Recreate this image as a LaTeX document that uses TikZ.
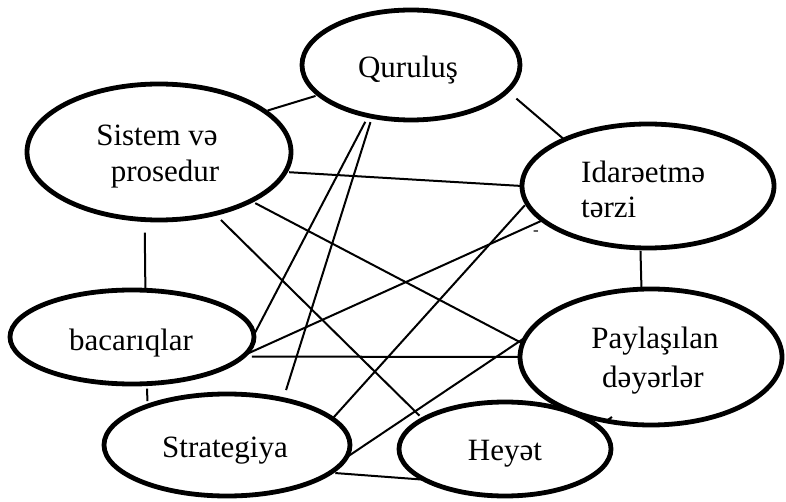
\documentclass[tikz,border=0pt]{standalone}
\usepackage{fontspec}
\setmainfont{Liberation Serif}
\usetikzlibrary{shapes.geometric}
\begin{document}
\begin{tikzpicture}[x=1pt,y=-1pt,
  oval/.style={draw, ellipse, line width=4.8pt, inner sep=0pt, outer sep=0pt},
  txt/.style={font=\fontsize{31}{37}\selectfont, inner sep=0pt, anchor=base},
  link/.style={line width=2pt}]
\useasboundingbox (0,0) rectangle (786,502);

% the seven elements
\node[oval, minimum width=218pt, minimum height=110pt] (q)  at (411,65)  {};
\node[oval, minimum width=264pt, minimum height=136pt] (s)  at (159,152) {};
\node[oval, minimum width=252pt, minimum height=124pt] (i)  at (648,186) {};
\node[oval, minimum width=244pt, minimum height=94pt]  (b)  at (132,337) {};
\node[oval, minimum width=246pt, minimum height=102pt] (st) at (227,445) {};
\node[oval, minimum width=262pt, minimum height=136pt] (p)  at (651,357) {};
\node[oval, minimum width=212pt, minimum height=94pt]  (h)  at (505,449) {};

% their names
\node[txt] (qt)  at (408,78)  {Quruluş};
\node[txt] (st1) at (157,146) {Sistem və};
\node[txt] (st2) at (165,182) {prosedur};
\node[txt, anchor=base west] (it1) at (581,183) {Idarəetmə};
\node[txt, anchor=base west] (it2) at (581,218) {tərzi};
\node[txt] (bt)  at (131,350) {bacarıqlar};
\node[txt] (stt) at (225,457) {Strategiya};
\node[txt] (pt1) at (655,348) {Paylaşılan};
\node[txt] (pt2) at (653,387) {dəyərlər};
\node[txt] (ht)  at (505,460) {Heyət};
\node[font=\fontsize{17}{17}\selectfont, inner sep=0pt] (dash) at (536,233) {-};

% links between the elements
\draw[link, shorten <=3pt, shorten >=4pt] (s.21) -- (q.198);
\draw[link, shorten <=12pt] (q.345) -- (i.151);
\draw[link, shorten <=4pt] (s.351) -- (i.180);
\draw[link, shorten <=13pt, shorten >=2pt] (s.258) -- (b.74);
\draw[link, shorten <=9pt, shorten >=5pt] (s.312) -- (h.160);
\draw[link, shorten <=5pt] (s.332) -- (p.174);
\draw[link, shorten <=7pt] (q.230) -- (b.1);
\draw[link, shorten <=6pt, shorten >=10pt] (q.233) -- (st.39);
\draw[link, shorten <=3pt] (i.188) -- (st.14);
\draw[link] (b.351) -- (i.198);
\draw[link, shorten <=9pt] (b.350) -- (p.180);
\draw[link, shorten <=3pt] (st.354) -- (p.171);
\draw[link, shorten <=5pt] (st.345) -- (h.201);
\draw[link, shorten <=3pt] (i.263.5) -- (p.98.4);
\draw[link, shorten <=5pt, shorten >=5pt] (b.288) -- (st.154);
\coordinate (pstub) at (612,417);
\draw[link] (p.235) -- (pstub);
\end{tikzpicture}
\end{document}
